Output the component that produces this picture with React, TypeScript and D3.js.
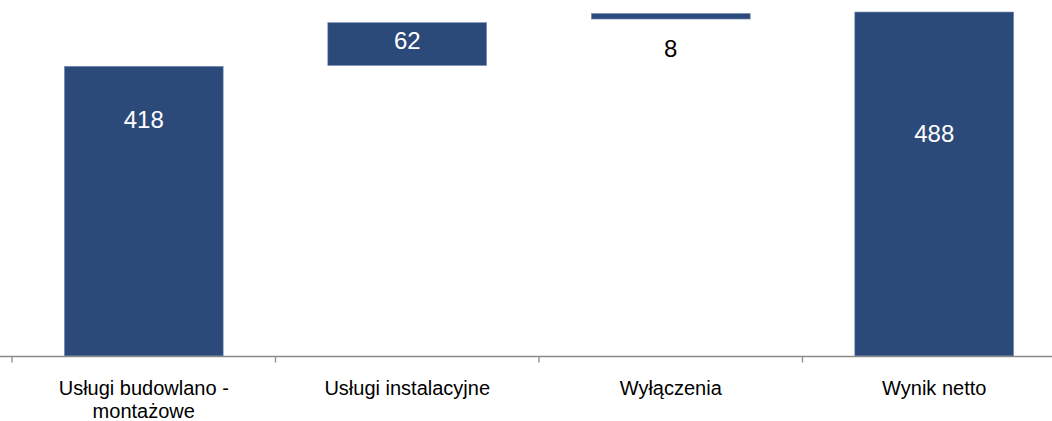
import React from "react";
import * as d3 from "d3";

const categories = ["Usługi budowlano - montażowe", "Usługi instalacyjne", "Wyłączenia", "Wynik netto"];
const categoryLines = [["Usługi budowlano -", "montażowe"], ["Usługi instalacyjne"], ["Wyłączenia"], ["Wynik netto"]];
const valueLabels = ["418", "62", "8", "488"];
// bar extents
const barLow = [0, 412, 478, 0];
const barHigh = [411, 473, 486, 488];
// label anchor (vertical centre) in value units
const labelAt = [335.5, 447.6, 435.8, 316.4];
const labelInside = [true, true, false, true];

const W = 1052;
const H = 421;
const FONT = "'Liberation Sans', Arial, Helvetica, sans-serif";
const BAR = "#2b4a7a";

export default function App() {
  const x = d3.scaleBand<string>().domain(categories).range([12, 1066]).paddingInner(0).paddingOuter(0);
  const y = d3.scaleLinear().domain([0, 488]).range([356, 12]);
  const step = x.step();
  const bw = step * 0.603;
  const axisY = 356.5;
  const ticks = categories.map((c) => x(c) as number);

  return (
    <svg width={W} height={H} style={{ position: "absolute", left: 0, top: 0, background: "#fff" }} fontFamily={FONT}>
      {categories.map((c, i) => {
        const cx = (x(c) as number) + step / 2;
        const y0 = y(barHigh[i]);
        const y1 = y(barLow[i]);
        return (
          <g key={c}>
            <rect x={cx - bw / 2} y={y0} width={bw} height={y1 - y0} fill={BAR} stroke="#7f95b8" strokeWidth={0.6} />
            <text
              x={cx}
              y={y(labelAt[i])}
              dy="0.36em"
              textAnchor="middle"
              fontSize={24}
              fill={labelInside[i] ? "#ffffff" : "#000000"}
            >
              {valueLabels[i]}
            </text>
            {categoryLines[i].map((ln, j) => (
              <text key={j} x={cx} y={395 + j * 22.7} textAnchor="middle" fontSize={20} fill="#000">
                {ln}
              </text>
            ))}
          </g>
        );
      })}
      <line x1={0} x2={W} y1={axisY} y2={axisY} stroke="#8a8a8a" strokeWidth={1.3} />
      {ticks.map((t, i) => (
        <line key={i} x1={t} x2={t} y1={axisY} y2={axisY + 6} stroke="#8a8a8a" strokeWidth={1.3} />
      ))}
    </svg>
  );
}
